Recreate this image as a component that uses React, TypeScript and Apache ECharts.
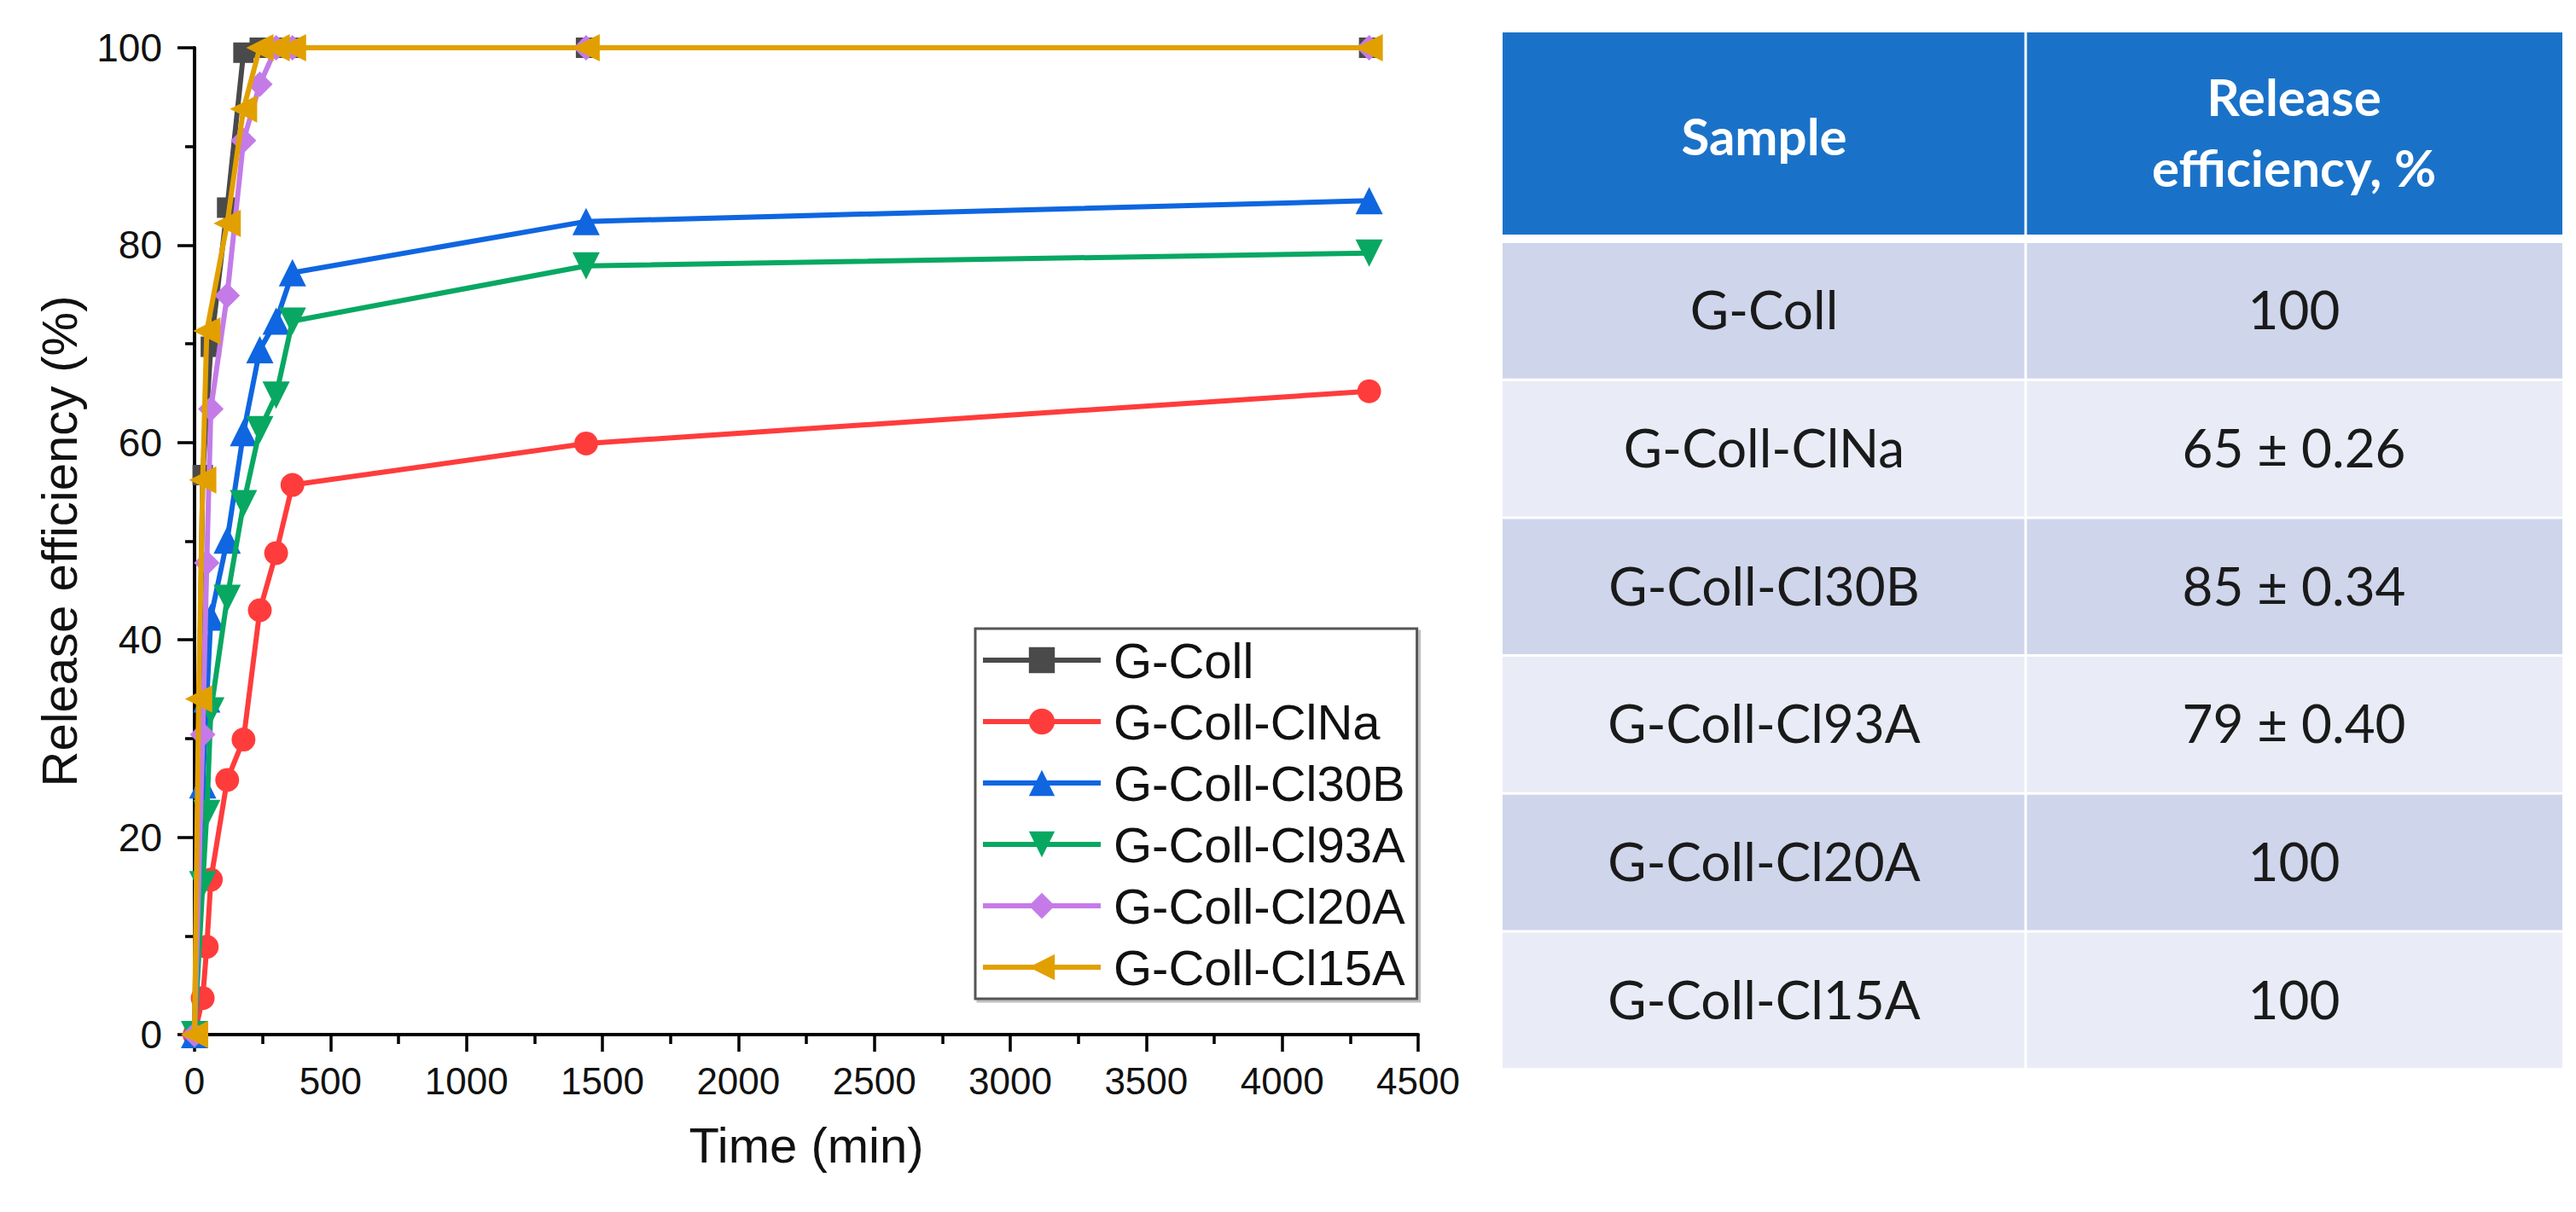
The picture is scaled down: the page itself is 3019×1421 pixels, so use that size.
import React, { useEffect, useRef } from "react";
import * as echarts from "echarts";

// ---- data ----
const TIMES = [0, 15, 30, 45, 60, 120, 180, 240, 300, 360, 1440, 4320];
const SERIES_NAMES = ["G-Coll", "G-Coll-ClNa", "G-Coll-Cl30B", "G-Coll-Cl93A", "G-Coll-Cl20A", "G-Coll-Cl15A"];
const G_COLL = [0, null, 56.7, null, 69.7, 83.8, 99.5, 100, 100, 100, 100, 100];
const G_COLL_CLNA = [0, null, 3.7, 8.9, 15.7, 25.8, 29.9, 43.0, 48.8, 55.7, 59.9, 65.2];
const G_COLL_CL30B = [0, null, 25.3, 34.0, 42.3, 50.1, 61.0, 69.4, 72.3, 77.2, 82.4, 84.5];
const G_COLL_CL93A = [0, null, 15.2, 22.4, 32.8, 44.2, 53.8, 61.3, 64.8, 72.3, 77.9, 79.2];
const G_COLL_CL20A = [0, null, 30.4, 47.8, 63.4, 74.9, 90.6, 96.3, 100, 100, 100, 100];
const G_COLL_CL15A = [0, 34.0, 56.2, 71.3, null, 82.2, 93.8, 100, 100, 100, 100, 100];

const X_MIN = 0, X_MAX = 4500, X_INTERVAL = 500;
const Y_MIN = 0, Y_MAX = 100, Y_INTERVAL = 20;
const X_TITLE = "Time (min)";
const Y_TITLE = "Release efficiency (%)";

const TABLE_HEADER = ["Sample", "Release\nefficiency, %"];
const TABLE_SAMPLES = ["G-Coll", "G-Coll-ClNa", "G-Coll-Cl30B", "G-Coll-Cl93A", "G-Coll-Cl20A", "G-Coll-Cl15A"];
const TABLE_EFFICIENCY = ["100", "65 ± 0.26", "85 ± 0.34", "79 ± 0.40", "100", "100"];

// ---- styles ----
const VALUES = [G_COLL, G_COLL_CLNA, G_COLL_CL30B, G_COLL_CL93A, G_COLL_CL20A, G_COLL_CL15A];
const COLORS = ["#4a4a4a", "#ff3c3c", "#0f66e0", "#08a862", "#c47be8", "#e2a000"];
const SYMBOLS = ["rect", "circle", "triangle", "triangle", "diamond", "triangle"];
const SYMBOL_SIZES = [24, 28, 32, 32, 30, 32];
const SYMBOL_ROT = [0, 0, 0, 180, 0, 90];

const FONT = "'Liberation Sans', Arial, sans-serif";
const TFONT = "Lato, 'Noto Sans', sans-serif";

function buildTable(): any[] {
  const left = 1761, mid = 2374, right = 3003;
  const headTop = 38, headBottom = 275;
  const rowTop = 285, rowH = 161.7, gap = 3;
  const els: any[] = [];
  els.push({ type: "rect", shape: { x: left, y: headTop, width: right - left, height: headBottom - headTop }, style: { fill: "#1a72c8" } });
  els.push({ type: "rect", shape: { x: mid - 1.5, y: headTop, width: 3, height: headBottom - headTop }, style: { fill: "#ffffff" } });
  const c1 = (left + mid) / 2, c2 = (mid + right) / 2;
  const hc = (headTop + headBottom) / 2;
  const headStyle = { fontSize: 60, fontFamily: TFONT, fontWeight: "bold", fill: "#ffffff", align: "center", verticalAlign: "middle", textAlign: "center", textVerticalAlign: "middle", lineHeight: 83 };
  els.push({ type: "text", x: c1, y: hc + 2, style: { ...headStyle, text: TABLE_HEADER[0] } });
  els.push({ type: "text", x: c2, y: hc - 2, style: { ...headStyle, text: TABLE_HEADER[1] } });
  TABLE_SAMPLES.forEach((s, i) => {
    const y = rowTop + i * rowH;
    const fill = i % 2 === 0 ? "#cfd6eb" : "#e9ecf6";
    els.push({ type: "rect", shape: { x: left, y, width: mid - left - gap / 2, height: rowH - gap }, style: { fill } });
    els.push({ type: "rect", shape: { x: mid + gap / 2, y, width: right - mid - gap / 2, height: rowH - gap }, style: { fill } });
    const cy = y + (rowH - gap) / 2 - 2;
    const st = { fontSize: 62, fontFamily: TFONT, fill: "#1a1a1a", align: "center", verticalAlign: "middle", textAlign: "center", textVerticalAlign: "middle" };
    els.push({ type: "text", x: c1, y: cy, style: { ...st, text: s } });
    els.push({ type: "text", x: c2, y: cy, style: { ...st, text: TABLE_EFFICIENCY[i] } });
  });
  return els;
}

export default function App() {
  const ref = useRef<HTMLDivElement>(null);
  useEffect(() => {
    if (!ref.current) return;
    const chart = echarts.init(ref.current, undefined, { renderer: "svg" });
    const series = SERIES_NAMES.map((name, k) => ({
      name,
      type: "line",
      data: TIMES.map((t, i) => [t, VALUES[k][i]]).filter((p) => p[1] !== null),
      symbol: SYMBOLS[k],
      symbolSize: SYMBOL_SIZES[k],
      symbolRotate: SYMBOL_ROT[k],
      showAllSymbol: true,
      clip: false,
      z: 2 + k,
      lineStyle: { color: COLORS[k], width: 6 },
      itemStyle: { color: COLORS[k], borderWidth: 0 },
      emphasis: { disabled: true },
    }));
    const axisCommon = {
      axisLine: { show: true, onZero: false, lineStyle: { color: "#000", width: 4 } },
      axisTick: { show: true, inside: false, length: 20, lineStyle: { color: "#000", width: 3.5 } },
      minorTick: { show: true, splitNumber: 2, length: 11, lineStyle: { color: "#000", width: 3.5 } },
      splitLine: { show: false },
      minorSplitLine: { show: false },
      nameTextStyle: { fontSize: 58, fontFamily: FONT, color: "#111" },
    };
    chart.setOption({
      animation: false,
      backgroundColor: "#ffffff",
      grid: { left: 228, top: 56, width: 1434, height: 1157, containLabel: false, outerBoundsMode: "none" },
      xAxis: {
        type: "value",
        min: X_MIN,
        max: X_MAX,
        interval: X_INTERVAL,
        name: X_TITLE,
        nameLocation: "middle",
        nameGap: 100,
        axisLabel: { fontSize: 44, fontFamily: FONT, color: "#111", margin: 32, formatter: (v: number) => String(v) },
        ...axisCommon,
      },
      yAxis: {
        type: "value",
        min: Y_MIN,
        max: Y_MAX,
        interval: Y_INTERVAL,
        name: Y_TITLE,
        nameLocation: "middle",
        nameRotate: 90,
        nameGap: 130,
        axisLabel: { fontSize: 46, fontFamily: FONT, color: "#111", margin: 38, formatter: (v: number) => String(v) },
        ...axisCommon,
      },
      legend: {
        orient: "vertical",
        left: 1143,
        top: 737,
        data: SERIES_NAMES,
        itemWidth: 138,
        itemHeight: 38,
        itemGap: 10,
        padding: [6, 14, 6, 6],
        borderColor: "#555",
        borderWidth: 3,
        backgroundColor: "#fff",
        shadowColor: "rgba(0,0,0,0.25)",
        shadowOffsetX: 3,
        shadowOffsetY: 3,
        shadowBlur: 0,
        selectedMode: false,
        lineStyle: { width: 6 },
        textStyle: { fontSize: 58, fontFamily: FONT, color: "#111", lineHeight: 62, padding: [0, 0, 0, 10] },
      },
      series,
      graphic: buildTable(),
    });
    return () => chart.dispose();
  }, []);
  return <div ref={ref} style={{ position: "absolute", left: 0, top: 0, width: 3019, height: 1421, background: "#fff" }} />;
}
